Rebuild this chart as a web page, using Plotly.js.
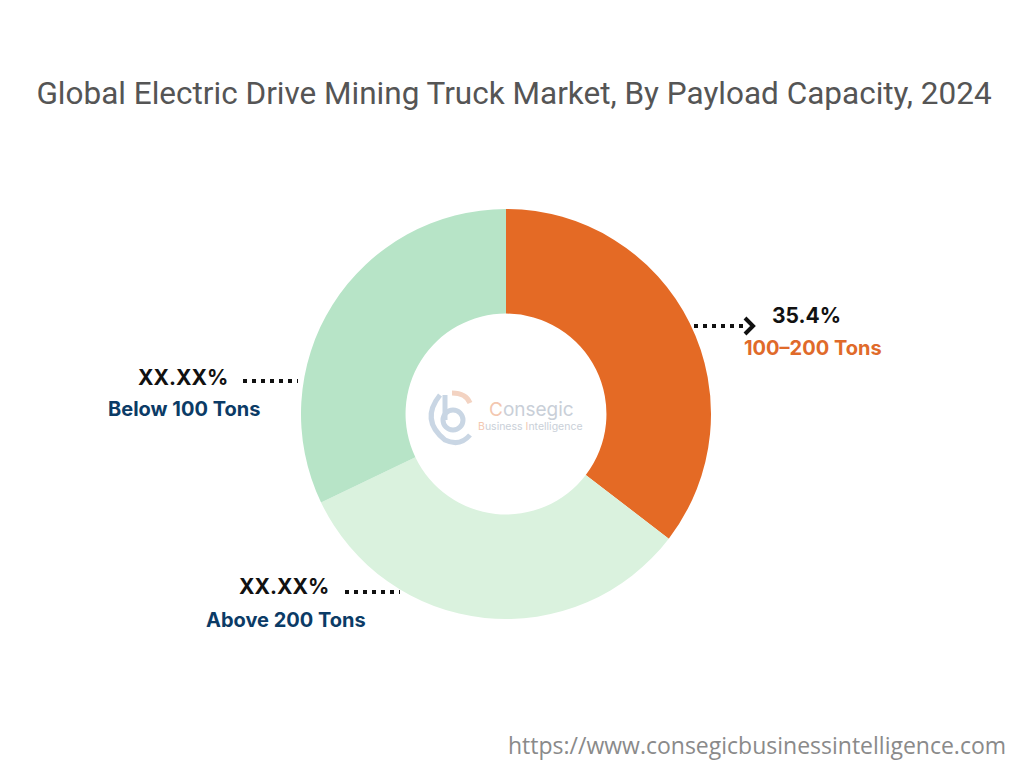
<!DOCTYPE html>
<html>
<head>
<meta charset="utf-8">
<script src="https://cdn.plot.ly/plotly-3.0.1.min.js"></script>
<style>html,body{margin:0;padding:0;background:#fff;}#chart{width:1024px;height:768px;}</style>
</head>
<body>
<div id="chart"></div>
<script>
const categories = ["100–200 Tons", "Above 200 Tons", "Below 100 Tons"];
const values = [35.4, 32.5, 32.1];
const valueLabels = ["35.4%", "XX.XX%", "XX.XX%"];
const colors = ["#E46A25", "#DAF2DE", "#B7E4C7"];
const labelColors = ["#E06A2A", "#0B3B66", "#0B3B66"];

const W = 1024, H = 768;
const px = x => x / W;
const py = y => 1 - y / H;

const cx = 506, cy = 414, R = 205;

const trace = {
  type: "pie",
  labels: categories,
  values: values,
  hole: 0.49,
  sort: false,
  direction: "clockwise",
  rotation: 0,
  marker: { colors: colors, line: { width: 0 } },
  textinfo: "none",
  hoverinfo: "label+percent",
  showlegend: false,
  domain: { x: [px(cx - R), px(cx + R)], y: [py(cy + R), py(cy - R)] }
};

// callout positions per category: [x, y, anchor]
const valuePos = [[770, 316, "left"], [331, 586, "right"], [230, 377, "right"]];
const namePos = [[742, 348, "left"], [368, 620, "right"], [262, 409, "right"]];

const lblFont = "Inter, Roboto, 'DejaVu Sans', sans-serif";
const annotations = [];
for (let i = 0; i < categories.length; i++) {
  annotations.push({
    xref: "paper", yref: "paper", x: px(valuePos[i][0]), y: py(valuePos[i][1]),
    xanchor: valuePos[i][2], yanchor: "middle", showarrow: false,
    text: "<b>" + valueLabels[i] + "</b>",
    font: { family: lblFont, size: 21, color: "#111" }
  });
  annotations.push({
    xref: "paper", yref: "paper", x: px(namePos[i][0]), y: py(namePos[i][1]),
    xanchor: namePos[i][2], yanchor: "middle", showarrow: false,
    text: "<b>" + categories[i] + "</b>",
    font: { family: lblFont, size: 20, color: labelColors[i] }
  });
}
// logo text
annotations.push({
  xref: "paper", yref: "paper", x: px(487), y: py(409), xanchor: "left", yanchor: "middle",
  showarrow: false,
  text: "<span style='color:#F3C7B0'>C</span>onsegic",
  font: { family: "Inter, Roboto, sans-serif", size: 19, color: "#C9CFD8" }
});
annotations.push({
  xref: "paper", yref: "paper", x: px(476), y: py(426), xanchor: "left", yanchor: "middle",
  showarrow: false,
  text: "<span style='color:#F3C7B0'>B</span>usiness <span style='color:#F3C7B0'>I</span>ntelligence",
  font: { family: "Inter, Roboto, sans-serif", size: 10.5, color: "#C9CFD8" }
});
// URL
annotations.push({
  xref: "paper", yref: "paper", x: px(1008), y: py(745), xanchor: "right", yanchor: "middle",
  showarrow: false, text: "https://www.consegicbusinessintelligence.com",
  font: { family: "'Open Sans', Roboto, sans-serif", size: 23, color: "#8a8a8a" }
});

const dotLine = (x0, x1, y) => ({
  type: "line", xref: "paper", yref: "paper",
  x0: px(x0), x1: px(x1), y0: py(y), y1: py(y),
  line: { color: "#111", width: 4, dash: "4px,5px" }
});

const shapes = [
  dotLine(694, 748, 326),
  { type: "path", xref: "paper", yref: "paper",
    path: `M ${px(745)} ${py(318)} L ${px(753)} ${py(326)} L ${px(745)} ${py(334)}`,
    line: { color: "#111", width: 4 } },
  dotLine(243, 298, 381),
  dotLine(345, 400, 592),
  // logo mark
  { type: "path", xref: "paper", yref: "paper",
    path: `M ${px(440)} ${py(395)} Q ${px(420)} ${py(420)} ${px(445)} ${py(440)} Q ${px(460)} ${py(447)} ${px(470)} ${py(435)}`,
    line: { color: "#C9D6E4", width: 5 } },
  { type: "circle", xref: "paper", yref: "paper",
    x0: px(443), x1: px(463), y0: py(430), y1: py(410),
    line: { color: "#C9D6E4", width: 5 } },
  { type: "line", xref: "paper", yref: "paper",
    x0: px(445), x1: px(445), y0: py(395), y1: py(420),
    line: { color: "#C9D6E4", width: 5 } },
  { type: "path", xref: "paper", yref: "paper",
    path: `M ${px(452)} ${py(393)} Q ${px(466)} ${py(393)} ${px(470)} ${py(403)}`,
    line: { color: "#F3D3C2", width: 5 } }
];

const layout = {
  width: W, height: H,
  margin: { l: 0, r: 0, t: 0, b: 0 },
  paper_bgcolor: "#fff",
  title: {
    text: "Global Electric Drive Mining Truck Market, By Payload Capacity, 2024",
    font: { family: "Roboto, 'DejaVu Sans', sans-serif", size: 31.5, color: "#555" },
    x: 0.502, xanchor: "center", xref: "paper",
    y: py(93), yanchor: "middle", yref: "container"
  },
  annotations: annotations,
  shapes: shapes
};

Plotly.newPlot("chart", [trace], layout, { displayModeBar: false, staticPlot: true });
</script>
</body>
</html>
